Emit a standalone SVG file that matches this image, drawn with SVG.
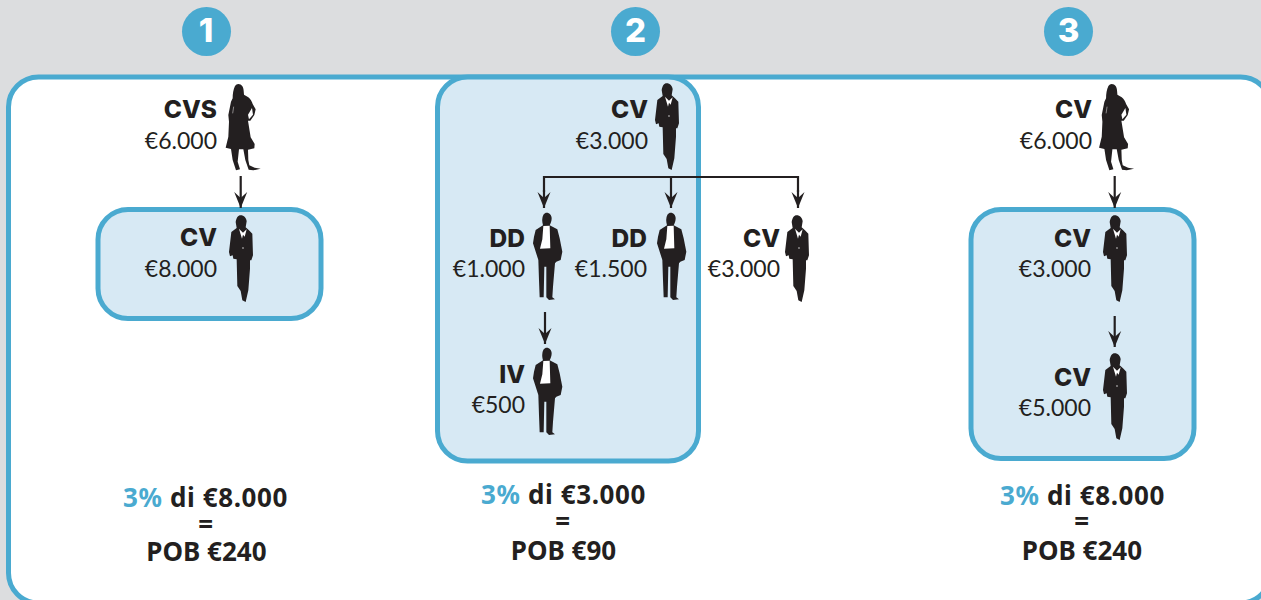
<svg xmlns="http://www.w3.org/2000/svg" width="1261" height="600" viewBox="0 0 1261 600">
<style>
.bg{fill:#dcdddf}
.frame{fill:#fff;stroke:#4aaad0;stroke-width:5}
.box{fill:#d7e9f4;stroke:#4aaad0;stroke-width:5}
.badge{fill:#4aaad0}
.num{font:800 33px "Inter","Noto Sans",sans-serif;fill:#fff;text-anchor:middle}
.role{font:800 24.500px "Inter","Noto Sans",sans-serif;fill:#231f20;text-anchor:end}
.amt{font:400 23px "Lato","Noto Sans",sans-serif;fill:#231f20;text-anchor:end}
.res{font:700 26px "Noto Sans",sans-serif;fill:#231f20;text-anchor:middle;letter-spacing:.6px}
.pob{letter-spacing:0}
.pc{fill:#4aaad0}
.ln{fill:none;stroke:#231f20;stroke-width:2.200}
.sil{fill:#231f20}
.wh{fill:#fff}
.lt{fill:none;stroke:#fff;stroke-width:2;opacity:.7}
</style>
<defs>
<marker id="arrow" markerUnits="userSpaceOnUse" markerWidth="18" markerHeight="14" refX="16" refY="7" orient="auto" viewBox="0 0 18 14">
<path d="M0 .5 L6 7 L0 13.500 L16 7Z" fill="#231f20"/>
</marker>
<g id="dress">
<path class="sil" d="M55 12C65 12 71 22 71 32L72 44L85 52C92 58 96 66 98 72L107 88L103 105L91 122L84 122L92 172L104 192L103 205L84 209L85 240L88 256L104 263L122 266L100 271L86 269L76 240L70 208L57 208L53 245L60 268L48 271L38 240L33 207L17 203L25 170L27 125L25 105L33 65L38 55C38 42 40 28 45 18C48 14 51 12 55 12Z"/>
<path class="wh" d="M96 84L84 104L87 118L99 104Z"/>
<path class="lt" d="M41 80L38 100" />
</g>
<g id="suitw">
<path class="sil" d="M50 10C60 10 67 18 68 28L65 46L75 55L85 65L87 130L82 145L78 145L78 170L73 235L65 270L55 265L50 237L40 222L38 142L28 140L26 130L18 133L15 120L22 60L38 48L35 30C37 18 42 10 50 10Z"/>
<path class="wh" d="M45 50L57 62L68 52L62 74L57 68L54 80Z"/>
<circle class="wh" cx="57" cy="108" r="2"/>
</g>
<g id="man">
<path class="sil" d="M53 8C62 8 68 16 68 25C68 34 65 40 62 46L85 58L92 85L100 125L95 150L82 155L78 160L72 230L70 262L78 268L60 270L52 262L52 170L46 170L44 262L32 262L30 210L28 150L12 100L15 80L20 60L42 46C40 38 39 32 40 26C41 15 46 8 53 8Z"/>
<path class="wh" d="M43 48L62 47L64 115L33 116L40 88Z"/>
</g>
</defs>
<rect class="bg" width="1261" height="600"/>
<rect class="frame" x="8.500" y="77" width="1262" height="526" rx="30"/>
<g id="badge1"><circle class="badge" cx="206.500" cy="31.500" r="24.500"/><text class="num" x="206" y="42">1</text></g>
<g id="badge2"><circle class="badge" cx="635.500" cy="31.500" r="24.500"/><text class="num" x="635.500" y="42">2</text></g>
<g id="badge3"><circle class="badge" cx="1068.500" cy="31.500" r="24.500"/><text class="num" x="1068.500" y="42">3</text></g>
<rect id="group1" class="box" x="98" y="209.500" width="223" height="109" rx="30"/>
<rect id="group2" class="box" x="437.500" y="77" width="261" height="384" rx="30"/>
<rect id="group3" class="box" x="971" y="209.500" width="223" height="249" rx="30"/>
<g id="connectors">
<path class="ln" d="M240.700 176V208" marker-end="url(#arrow)"/>
<path class="ln" d="M544 192V177H798V192"/>
<path class="ln" d="M544 190V208" marker-end="url(#arrow)"/>
<path class="ln" d="M671 177V208" marker-end="url(#arrow)"/>
<path class="ln" d="M798 190V208" marker-end="url(#arrow)"/>
<path class="ln" d="M545 312V344" marker-end="url(#arrow)"/>
<path class="ln" d="M1114.700 176V208" marker-end="url(#arrow)"/>
<path class="ln" d="M1114.700 316V347" marker-end="url(#arrow)"/>
</g>
<g id="n1-cvs"><use href="#dress" transform="translate(220 80) scale(.3333)"/><text class="role" x="217" y="118">CVS</text><text class="amt" x="217" y="149">€6.000</text></g>
<g id="n1-cv"><use href="#suitw" transform="translate(224 212) scale(.3333)"/><text class="role" x="217" y="246">CV</text><text class="amt" x="217" y="277">€8.000</text></g>
<g id="n2-cv"><use href="#suitw" transform="translate(650 80) scale(.3333)"/><text class="role" x="648" y="118">CV</text><text class="amt" x="648" y="149">€3.000</text></g>
<g id="n2-dd1"><use href="#man" transform="translate(529 210) scale(.3333)"/><text class="role" x="525" y="247">DD</text><text class="amt" x="525" y="277">€1.000</text></g>
<g id="n2-dd2"><use href="#man" transform="translate(653 210) scale(.3333)"/><text class="role" x="647" y="247">DD</text><text class="amt" x="647" y="277">€1.500</text></g>
<g id="n2-cv2"><use href="#suitw" transform="translate(780 212) scale(.3333)"/><text class="role" x="780" y="247">CV</text><text class="amt" x="780" y="277">€3.000</text></g>
<g id="n2-iv"><use href="#man" transform="translate(529 345) scale(.3333)"/><text class="role" x="525" y="383">IV</text><text class="amt" x="525" y="413">€500</text></g>
<g id="n3-cv1"><use href="#dress" transform="translate(1093.400 80) scale(.3333)"/><text class="role" x="1092" y="118">CV</text><text class="amt" x="1092" y="149">€6.000</text></g>
<g id="n3-cv2"><use href="#suitw" transform="translate(1098 212) scale(.3333)"/><text class="role" x="1091" y="247">CV</text><text class="amt" x="1091" y="277">€3.000</text></g>
<g id="n3-cv3"><use href="#suitw" transform="translate(1098 350) scale(.3333)"/><text class="role" x="1091" y="386">CV</text><text class="amt" x="1091" y="416">€5.000</text></g>
<g id="result1"><text class="res" x="205.500" y="506.500"><tspan class="pc">3%</tspan> di €8.000</text><text class="res" x="206" y="534">=</text><text class="res pob" x="206.500" y="560.500">POB €240</text></g>
<g id="result2"><text class="res" x="563.500" y="504"><tspan class="pc">3%</tspan> di €3.000</text><text class="res" x="563" y="531">=</text><text class="res pob" x="563.500" y="559.500">POB €90</text></g>
<g id="result3"><text class="res" x="1082.500" y="504.500"><tspan class="pc">3%</tspan> di €8.000</text><text class="res" x="1082" y="531">=</text><text class="res pob" x="1082" y="559.500">POB €240</text></g>
</svg>
